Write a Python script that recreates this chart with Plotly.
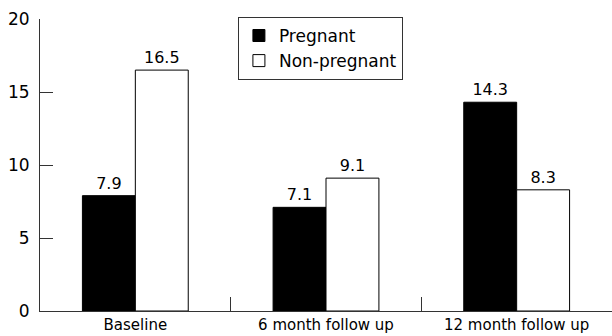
import plotly.graph_objects as go

categories = ["Baseline", "6 month follow up", "12 month follow up"]
pregnant = [7.9, 7.1, 14.3]
non_pregnant = [16.5, 9.1, 8.3]
y_ticks = [0, 5, 10, 15, 20]

FONT = "DejaVu Sans, Verdana, sans-serif"

fig = go.Figure()
fig.add_trace(go.Bar(
    name="Pregnant", x=categories, y=pregnant,
    marker=dict(color="black", line=dict(color="black", width=1)),
    text=[f"{v:.1f}" for v in pregnant], textposition="outside",
    textfont=dict(size=16, color="black", family=FONT), cliponaxis=False,
))
fig.add_trace(go.Bar(
    name="Non-pregnant", x=categories, y=non_pregnant,
    marker=dict(color="white", line=dict(color="black", width=1)),
    text=[f"{v:.1f}" for v in non_pregnant], textposition="outside",
    textfont=dict(size=16, color="black", family=FONT), cliponaxis=False,
))

fig.update_layout(
    width=612, height=336,
    margin=dict(l=40, r=0, t=19, b=25),
    paper_bgcolor="white", plot_bgcolor="white",
    barmode="group", bargap=0.445, bargroupgap=0,
    font=dict(family=FONT, size=15, color="black"),
    showlegend=True,
    legend=dict(
        x=0.346, y=1.007, xanchor="left", yanchor="top",
        bordercolor="#333", borderwidth=1, bgcolor="white",
        font=dict(size=17), tracegroupgap=0,
    ),
    xaxis=dict(
        range=[-0.5, 2.5], showline=True, linecolor="#333", linewidth=1,
        ticks="inside", tickson="boundaries", ticklen=14, tickcolor="#333",
        showgrid=False, tickfont=dict(size=15), automargin=False,
    ),
    yaxis=dict(
        range=[0, 20], tickvals=y_ticks, showline=True, linecolor="#333", linewidth=1,
        ticks="inside", ticklen=13, tickcolor="#333", showgrid=False, zeroline=False,
        tickfont=dict(size=17), ticklabelstandoff=6, automargin=False,
    ),
)

fig.write_html("out.html", config={"displayModeBar": False},
               post_script="document.body.style.margin='0';")
